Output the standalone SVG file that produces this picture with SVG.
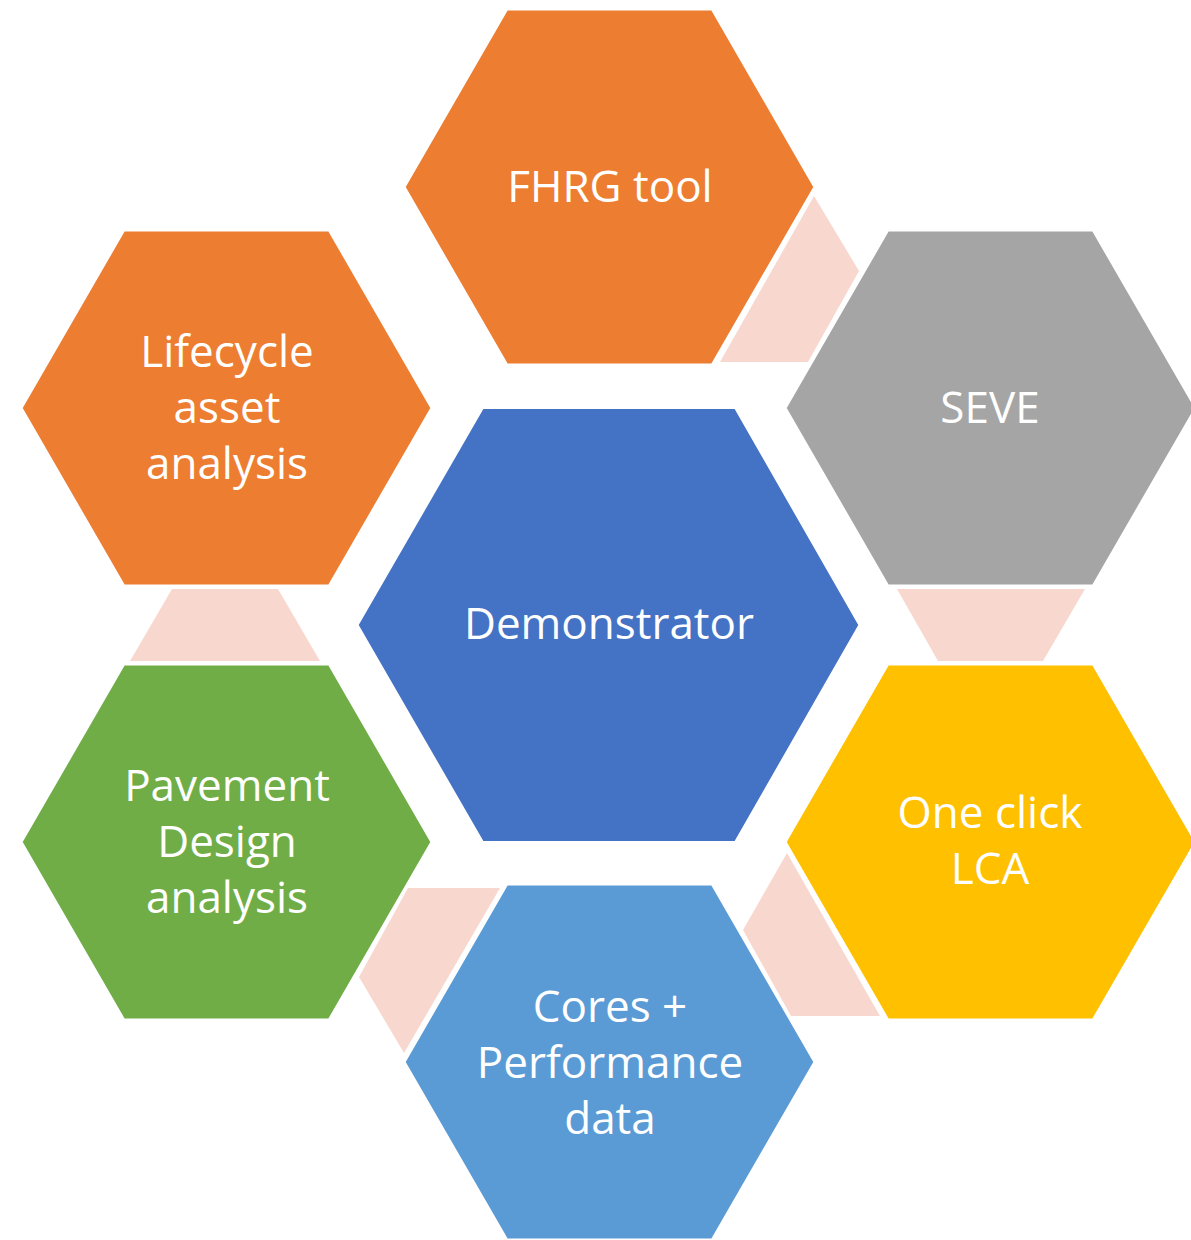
<svg xmlns="http://www.w3.org/2000/svg" width="1191" height="1240" viewBox="0 0 1191 1240">
<style>
.hex{stroke:#ffffff;stroke-width:3;stroke-linejoin:miter}
.link{fill:#F8D8CE;stroke:none}
.lbl{font-family:"Open Sans","Liberation Sans",sans-serif;font-size:44px;fill:#ffffff;text-anchor:middle}
</style>
<rect width="1191" height="1240" fill="#ffffff"/>
<g id="connectors">
<polygon class="link" points="814,196 859,271 808,362 720,362"/>
<polygon class="link" points="172,589 278,589 320,661 130,661"/>
<polygon class="link" points="897,589 1085,589 1043,661 938,661"/>
<polygon class="link" points="408,888 500,888 404,1053 359,977"/>
<polygon class="link" points="787,853 880,1016 791,1016 743,930"/>
</g>
<g id="demonstrator">
<polygon class="hex" fill="#4472C4" points="357,625 482.5,407.5 735.5,407.5 860,625 735.5,842.5 482.5,842.5"/>
<text class="lbl" x="609" y="639">Demonstrator</text>
</g>
<g id="fhrg">
<polygon class="hex" fill="#ED7D31" points="404,187 506.75,9 712.25,9 815,187 712.25,365 506.75,365"/>
<text class="lbl" x="610" y="202">FHRG tool</text>
</g>
<g id="lifecycle">
<polygon class="hex" fill="#ED7D31" points="21,408 123.75,230 329.25,230 432,408 329.25,586 123.75,586"/>
<text class="lbl" x="227" y="367">Lifecycle</text>
<text class="lbl" x="227" y="423">asset</text>
<text class="lbl" x="227" y="479">analysis</text>
</g>
<g id="seve">
<polygon class="hex" fill="#A5A5A5" points="785,408 887.75,230 1093.25,230 1196,408 1093.25,586 887.75,586"/>
<text class="lbl" x="990" y="423">SEVE</text>
</g>
<g id="lca">
<polygon class="hex" fill="#FFC000" points="785,842 887.75,664 1093.25,664 1196,842 1093.25,1020 887.75,1020"/>
<text class="lbl" x="990" y="828">One click</text>
<text class="lbl" x="990" y="884">LCA</text>
</g>
<g id="pavement">
<polygon class="hex" fill="#70AD47" points="21,842 123.75,664 329.25,664 432,842 329.25,1020 123.75,1020"/>
<text class="lbl" x="227" y="801">Pavement</text>
<text class="lbl" x="227" y="857">Design</text>
<text class="lbl" x="227" y="913">analysis</text>
</g>
<g id="cores">
<polygon class="hex" fill="#5B9BD5" points="404,1062 506.75,884 712.25,884 815,1062 712.25,1240 506.75,1240"/>
<text class="lbl" x="610" y="1022">Cores +</text>
<text class="lbl" x="610" y="1078">Performance</text>
<text class="lbl" x="610" y="1134">data</text>
</g>
</svg>
